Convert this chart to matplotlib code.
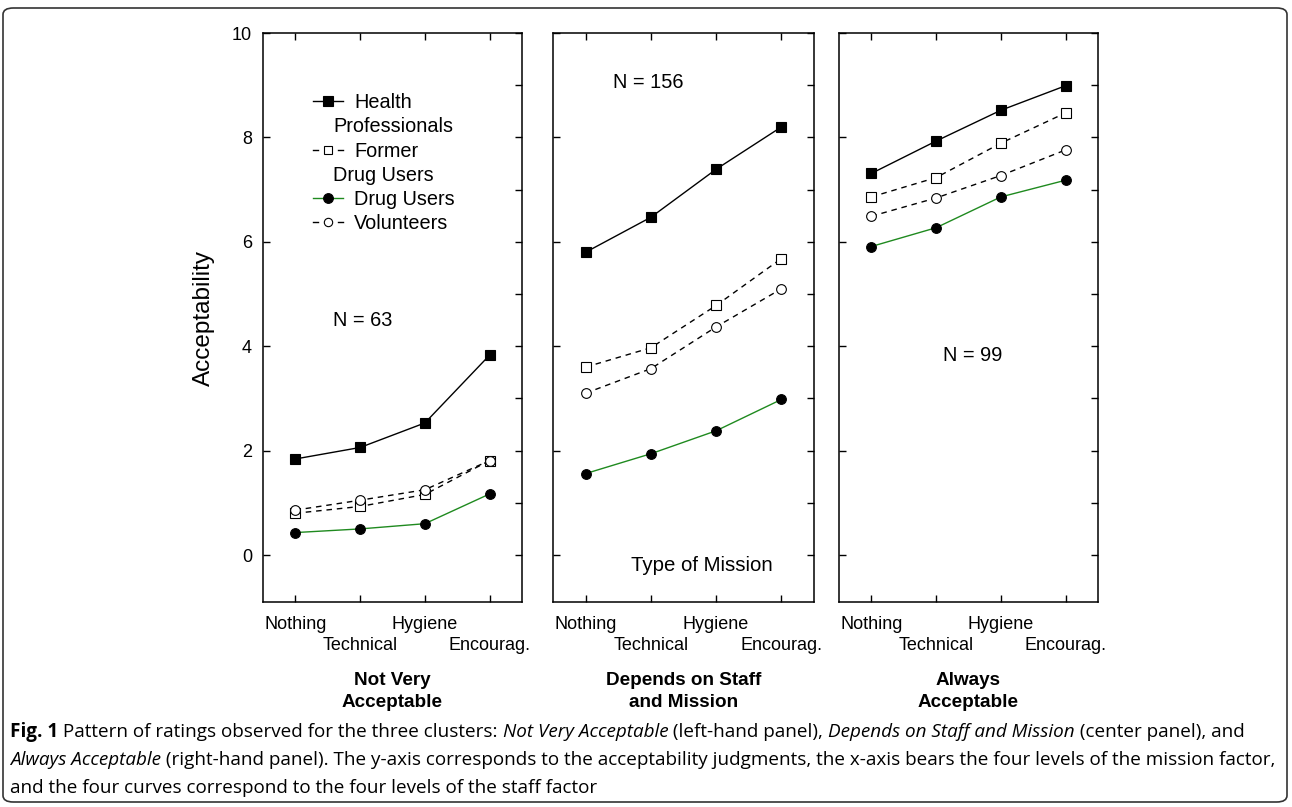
import matplotlib
matplotlib.use("Agg")
import matplotlib.pyplot as plt
from matplotlib.lines import Line2D
from matplotlib.patches import FancyBboxPatch

plt.rcParams['font.family'] = ['Liberation Sans', 'DejaVu Sans']

# mission levels (x) and staff groups (curves)
missions = ["Nothing", "Technical", "Hygiene", "Encourag."]
groups = ["Health Professionals", "Former Drug Users", "Drug Users", "Volunteers"]

# cluster 1: Not Very Acceptable
nva_hp = [1.84, 2.06, 2.53, 3.83]
nva_former = [0.80, 0.93, 1.16, 1.81]
nva_du = [0.43, 0.50, 0.60, 1.17]
nva_vol = [0.86, 1.05, 1.25, 1.81]

# cluster 2: Depends on Staff and Mission
dep_hp = [5.80, 6.47, 7.39, 8.20]
dep_former = [3.60, 3.97, 4.78, 5.68]
dep_du = [1.56, 1.94, 2.38, 2.98]
dep_vol = [3.10, 3.57, 4.37, 5.10]

# cluster 3: Always Acceptable
alw_hp = [7.31, 7.93, 8.52, 8.99]
alw_former = [6.86, 7.23, 7.89, 8.47]
alw_du = [5.91, 6.27, 6.86, 7.18]
alw_vol = [6.49, 6.84, 7.27, 7.76]

cluster_titles = ["Not Very\nAcceptable", "Depends on Staff\nand Mission", "Always\nAcceptable"]
cluster_n = ["N = 63", "N = 156", "N = 99"]

GREEN = "#1f8a1f"
styles = [
    dict(color="black", ls="-", marker="s", mfc="black", mec="black"),
    dict(color="black", ls=(0, (4, 3.5)), marker="s", mfc="white", mec="black"),
    dict(color=GREEN, ls="-", marker="o", mfc="black", mec="black"),
    dict(color="black", ls=(0, (4, 3.5)), marker="o", mfc="white", mec="black"),
]

fig = plt.figure(figsize=(12.92, 8.07), dpi=100)
W, H = 1292, 807

# outer rounded frame
fig.patches.append(FancyBboxPatch((3 / W, 5 / H), 1284 / W, 794 / H,
                                  boxstyle="round,pad=0,rounding_size=0.008",
                                  transform=fig.transFigure, fill=False,
                                  ec="#333333", lw=1.2))

panel_px = [(263, 259), (553, 261), (839, 259)]
top_px, bot_px = 33, 602

data = [
    [nva_hp, nva_former, nva_du, nva_vol],
    [dep_hp, dep_former, dep_du, dep_vol],
    [alw_hp, alw_former, alw_du, alw_vol],
]
n_pos = [(1.58, 4.5), (1.42, 9.06), (2.11, 3.83)]

x = [1, 2, 3, 4]
axes = []
for i, (left, width) in enumerate(panel_px):
    ax = fig.add_axes([left / W, (H - bot_px) / H, width / W, (bot_px - top_px) / H])
    axes.append(ax)
    for vals, st in zip(data[i], styles):
        ax.plot(x, vals, lw=1.0, ms=7, mew=0.8, **st)
    ax.set_xlim(0.5, 4.5)
    ax.set_ylim(-0.9, 10)
    # staggered category labels: odd levels on the first row, even ones below
    ax.set_xticks(x[0::2])
    ax.set_xticklabels(missions[0::2], fontsize=13)
    ax.set_xticks(x[1::2], minor=True)
    ax.set_xticklabels(missions[1::2], minor=True, fontsize=13)
    ax.set_yticks([0, 2, 4, 6, 8, 10])
    ax.set_yticks([1, 3, 5, 7, 9], minor=True)
    ax.tick_params(which="both", direction="in", top=True, right=True, length=5, width=1)
    ax.tick_params(axis="y", which="minor", left=False)
    ax.tick_params(axis="x", which="major", pad=10)
    ax.tick_params(axis="x", which="minor", pad=25)
    if i == 0:
        ax.tick_params(axis="y", labelsize=13, pad=8)
        ax.set_ylabel("Acceptability", fontsize=17.5, labelpad=12)
    else:
        ax.set_yticklabels([])
    for sp in ax.spines.values():
        sp.set_linewidth(1.1)
    ax.set_xlabel(cluster_titles[i], fontsize=13.6, fontweight="bold", labelpad=13,
                  linespacing=1.4)
    ax.text(n_pos[i][0], n_pos[i][1], cluster_n[i], fontsize=14.4, va="center")

axes[1].text(1.70, -0.21, "Type of Mission", fontsize=14.7, va="center")

# legend (drawn by hand so that long labels wrap under the symbol)
ax = axes[0]
def fx(px):
    return (px - 263) / 259
def fy(py):
    return (bot_px - py) / (bot_px - top_px)

legend_rows = [(101, groups[0].split(" ", 1)), (150, groups[1].split(" ", 1)),
               (198, [groups[2]]), (222, [groups[3]])]
for (py, parts), st in zip(legend_rows, styles):
    if st["ls"] == "-":
        ax.add_line(Line2D([fx(313), fx(343)], [fy(py), fy(py)], transform=ax.transAxes,
                           color=st["color"], lw=1.0))
    else:
        for a, b in [(313, 318), (338, 343)]:
            ax.add_line(Line2D([fx(a), fx(b)], [fy(py), fy(py)], transform=ax.transAxes,
                               color="black", lw=1.0))
    ms = 7 if st["mfc"] == "black" else 6
    ax.add_line(Line2D([fx(328)], [fy(py)], transform=ax.transAxes, ls="none",
                       marker=st["marker"], ms=ms, mfc=st["mfc"], mec="black", mew=0.8))
    ax.text(fx(354), fy(py + 1.5), parts[0], transform=ax.transAxes, fontsize=14.3, va="center")
    if len(parts) > 1:
        ax.text(fx(333), fy(py + 25.5), parts[1], transform=ax.transAxes, fontsize=14.3,
                va="center")

# caption with mixed styles
fig.canvas.draw()
renderer = fig.canvas.get_renderer()
cap_family = ['Open Sans', 'DejaVu Sans']
cap_size = 13.6

def caption_line(pieces, py):
    xpos = 10
    for txt, style in pieces:
        kw = dict(fontsize=cap_size, family=cap_family, va="baseline")
        if style == "b":
            kw["fontweight"] = "bold"
        elif style == "i":
            kw["fontstyle"] = "italic"
        t = fig.text(xpos / W, (H - py) / H, txt, **kw)
        bb = t.get_window_extent(renderer)
        xpos += bb.width

caption_line([("Fig. 1", "b"), (" Pattern of ratings observed for the three clusters: ", "r"),
              ("Not Very Acceptable", "i"), (" (left-hand panel), ", "r"),
              ("Depends on Staff and Mission", "i"), (" (center panel), and", "r")], 737)
caption_line([("Always Acceptable", "i"),
              (" (right-hand panel). The y-axis corresponds to the acceptability judgments, "
               "the x-axis bears the four levels of the mission factor,", "r")], 765)
caption_line([("and the four curves correspond to the four levels of the staff factor", "r")], 793)

fig.savefig("out.png", dpi=100)
